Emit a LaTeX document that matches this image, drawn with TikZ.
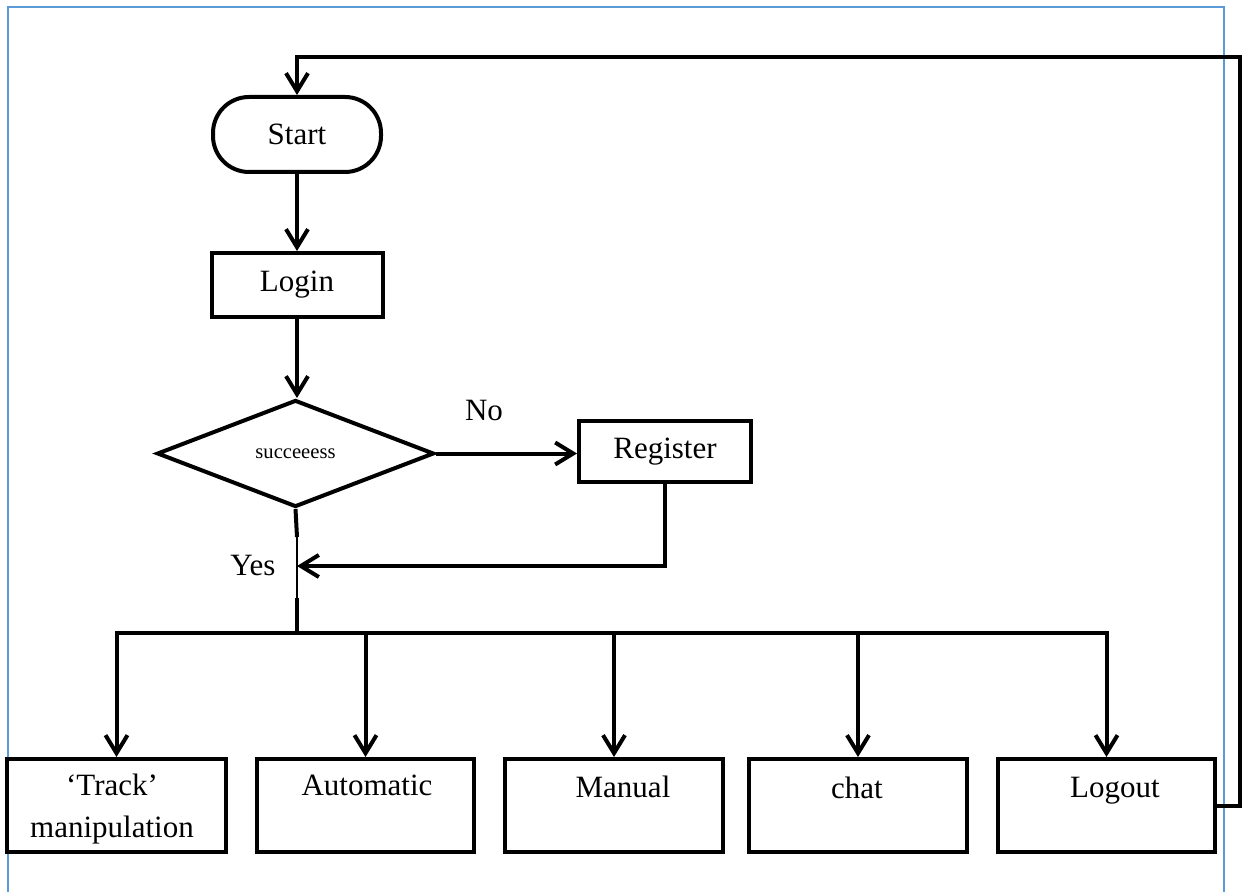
\documentclass[tikz,border=0pt]{standalone}
\usepackage{fontspec}
\setmainfont{Liberation Serif}
\usetikzlibrary{arrows.meta,shapes.geometric}
\definecolor{framecol}{RGB}{91,155,213}
\begin{document}
\begin{tikzpicture}[x=0.5pt,y=-0.5pt,
  flow/.style={line width=2pt},
  arr/.style={flow,-{Straight Barb[length=9pt,width=11pt,line width=2pt]}},
  box/.style={draw,line width=2pt,rectangle,inner sep=0pt},
  lbl/.style={font=\fontsize{15.5}{18}\selectfont,inner sep=0pt},
  small/.style={font=\fontsize{10.3}{12}\selectfont,inner sep=0pt},
  ]
\useasboundingbox (0,0) rectangle (1245,892);
% page frame
\draw[framecol,line width=1pt] (8,892) -- (8,7) -- (1224,7) -- (1224,892);

% upper part of the flow
\node[box,lbl,rounded corners=18pt,minimum width=84pt,minimum height=37.5pt] (start) at (297,134.5) {Start};
\node[box,lbl,minimum width=85.5pt,minimum height=32pt] (login) at (297,285) {Login};
\node[draw,line width=2pt,shape=diamond,inner sep=0pt,minimum width=138.5pt,minimum height=53.5pt,small] (dec) at (295.5,453.5) {succeeess};
\node[box,lbl,minimum width=86pt,minimum height=30.5pt] (reg) at (665,451.5) {Register};
\node[lbl] (no) at (484,411) {No};
\node[lbl,anchor=base] (yes) at (253,575) {Yes};

% menu boxes
\node[box,minimum width=109.5pt,minimum height=46.5pt] (track) at (116.5,805.5) {};
\node[box,minimum width=108.5pt,minimum height=46.5pt] (auto) at (365.5,805.5) {};
\node[box,minimum width=109pt,minimum height=46.5pt] (manual) at (614,805.5) {};
\node[box,minimum width=109pt,minimum height=46.5pt] (chat) at (858,805.5) {};
\node[box,minimum width=108.5pt,minimum height=46.5pt] (logout) at (1106.5,805.5) {};
\node[lbl,anchor=base] (ttrack) at (112,795) {‘Track’};
\node[lbl,anchor=base] (tmanip) at (112,837) {manipulation};
\node[lbl,anchor=base] (tauto) at (367,795) {Automatic};
\node[lbl,anchor=base] (tmanual) at (623,797) {Manual};
\node[lbl,anchor=base] (tchat) at (857,798) {chat};
\node[lbl,anchor=base] (tlogout) at (1115,797) {Logout};

% helper points
\coordinate (loopB) at (1240,57);
\coordinate (gapTop) at (297,537);
\coordinate (gapBot) at (297,598);
\coordinate (join) at (297,566);
\coordinate (bus) at (297,633);

% connectors
\draw[arr] (start.south) -- (login.north);
\draw[arr] (login.south) -- (login.south |- dec.north);
\draw[arr] (dec.east) -- (reg.west |- dec.east);
\draw[flow] (dec.south) -- (gapTop);
\draw[line width=0.6pt] (gapTop) -- (gapBot);
\draw[flow] (gapBot) -- (bus);
\draw[arr] (reg.south) |- (join);
\draw[flow,line cap=rect] (track.north |- bus) -- (logout.north |- bus);
\foreach \b in {track,auto,manual,chat,logout}
  \draw[arr] (\b.north |- bus) -- (\b.north);
\draw[arr] (logout.east) -| (loopB) -| (start.north);
\end{tikzpicture}
\end{document}
